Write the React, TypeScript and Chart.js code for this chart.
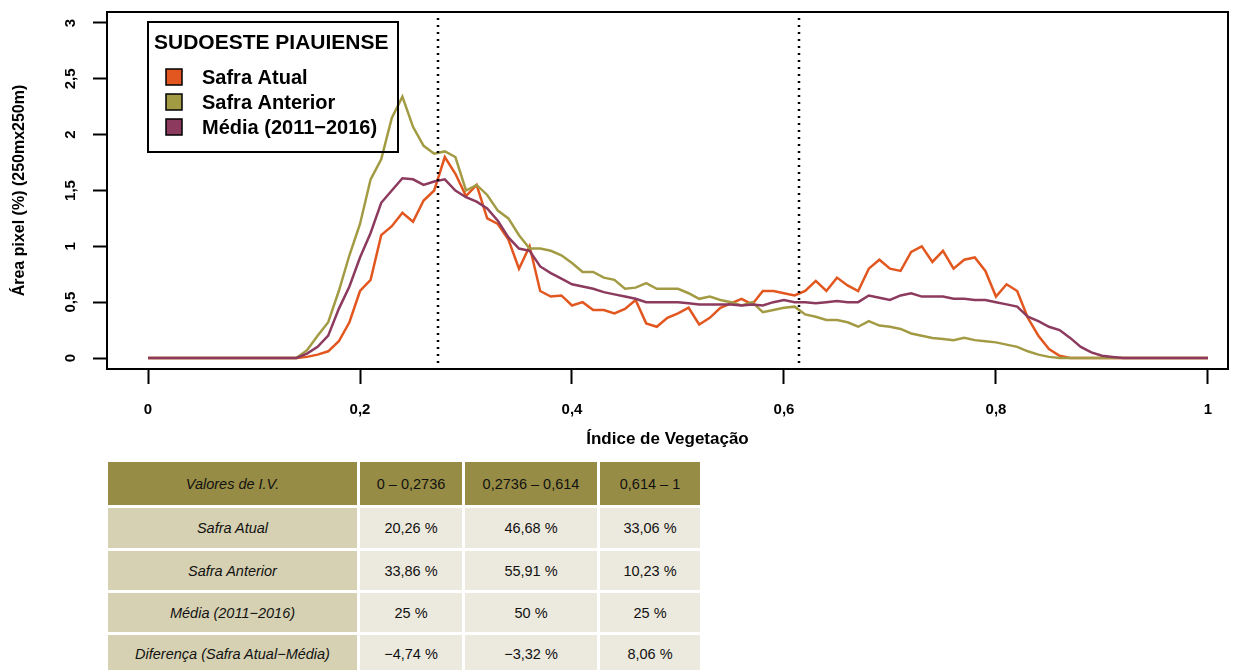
import React, { useEffect, useRef } from "react";
import { Chart, registerables } from "chart.js";
Chart.register(...registerables);

// Índice de Vegetação (x values)
const ivValues = [0,
  0.14, 0.15, 0.16, 0.17, 0.18, 0.19, 0.20, 0.21, 0.22, 0.23,
  0.24, 0.25, 0.26, 0.27, 0.28, 0.29, 0.30, 0.31, 0.32, 0.33,
  0.34, 0.35, 0.36, 0.37, 0.38, 0.39, 0.40, 0.41, 0.42, 0.43,
  0.44, 0.45, 0.46, 0.47, 0.48, 0.49, 0.50, 0.51, 0.52, 0.53,
  0.54, 0.55, 0.56, 0.57, 0.58, 0.59, 0.60, 0.61, 0.62, 0.63,
  0.64, 0.65, 0.66, 0.67, 0.68, 0.69, 0.70, 0.71, 0.72, 0.73,
  0.74, 0.75, 0.76, 0.77, 0.78, 0.79, 0.80, 0.81, 0.82, 0.83,
  0.84, 0.85, 0.86, 0.87, 0.88, 0.89, 0.90, 0.91, 0.92,
  1];

const safraAtual = [0,
  0, 0.01, 0.03, 0.06, 0.15, 0.32, 0.6, 0.7, 1.1, 1.18,
  1.3, 1.22, 1.41, 1.5, 1.8, 1.65, 1.45, 1.55, 1.25, 1.2,
  1.06, 0.8, 1.0, 0.6, 0.55, 0.56, 0.47, 0.5, 0.43, 0.43,
  0.4, 0.44, 0.52, 0.31, 0.28, 0.36, 0.4, 0.45, 0.3, 0.36,
  0.45, 0.49, 0.53, 0.48, 0.6, 0.6, 0.58, 0.56, 0.6, 0.69,
  0.6, 0.72, 0.65, 0.6, 0.8, 0.88, 0.8, 0.78, 0.95, 1.0,
  0.86, 0.96, 0.8, 0.88, 0.9, 0.78, 0.55, 0.66, 0.6, 0.36,
  0.2, 0.08, 0.02, 0, 0, 0, 0, 0, 0,
  0];

const safraAnterior = [0,
  0, 0.07, 0.2, 0.32, 0.6, 0.92, 1.2, 1.6, 1.78, 2.15,
  2.34, 2.07, 1.9, 1.83, 1.85, 1.8, 1.5, 1.55, 1.46, 1.32,
  1.25, 1.1, 0.98, 0.98, 0.96, 0.92, 0.85, 0.77, 0.77, 0.72,
  0.7, 0.62, 0.63, 0.67, 0.62, 0.62, 0.62, 0.58, 0.53, 0.55,
  0.52, 0.5, 0.47, 0.5, 0.41, 0.43, 0.45, 0.46, 0.39, 0.37,
  0.34, 0.34, 0.32, 0.28, 0.33, 0.29, 0.28, 0.26, 0.22, 0.2,
  0.18, 0.17, 0.16, 0.18, 0.16, 0.15, 0.14, 0.12, 0.1, 0.06,
  0.03, 0.01, 0, 0, 0, 0, 0, 0, 0,
  0];

const mediaHistorica = [0,
  0, 0.04, 0.1, 0.2, 0.44, 0.64, 0.9, 1.12, 1.39, 1.5,
  1.61, 1.6, 1.55, 1.58, 1.6, 1.5, 1.44, 1.4, 1.34, 1.23,
  1.08, 0.98, 0.96, 0.82, 0.76, 0.71, 0.66, 0.64, 0.62, 0.59,
  0.57, 0.55, 0.53, 0.5, 0.5, 0.5, 0.5, 0.49, 0.48, 0.48,
  0.48, 0.48, 0.47, 0.48, 0.47, 0.5, 0.52, 0.5, 0.5, 0.49,
  0.5, 0.51, 0.5, 0.5, 0.56, 0.54, 0.52, 0.56, 0.58, 0.55,
  0.55, 0.55, 0.53, 0.53, 0.52, 0.52, 0.5, 0.48, 0.46, 0.37,
  0.33, 0.28, 0.25, 0.18, 0.1, 0.05, 0.02, 0.01, 0,
  0];

const legendTitle = "SUDOESTE PIAUIENSE";
const seriesNames = ["Safra Atual", "Safra Anterior", "Média (2011−2016)"];
const seriesColors = ["#E2571F", "#A39B44", "#8C3A5E"];

const xTicks = [0, 0.2, 0.4, 0.6, 0.8, 1];
const xTickLabels = ["0", "0,2", "0,4", "0,6", "0,8", "1"];
const yTicks = [0, 0.5, 1, 1.5, 2, 2.5, 3];
const yTickLabels = ["0", "0,5", "1", "1,5", "2", "2,5", "3"];
const xTitle = "Índice de Vegetação";
const yTitle = "Área pixel (%) (250mx250m)";
const cutPoints = [0.2736, 0.614];

const tableHeader = ["Valores de I.V.", "0 – 0,2736", "0,2736 – 0,614", "0,614 – 1"];
const tableRowLabels = ["Safra Atual", "Safra Anterior", "Média (2011−2016)", "Diferença (Safra Atual−Média)"];
const tableRange1 = ["20,26 %", "33,86 %", "25 %", "−4,74 %"];
const tableRange2 = ["46,68 %", "55,91 %", "50 %", "−3,32 %"];
const tableRange3 = ["33,06 %", "10,23 %", "25 %", "8,06 %"];

const FONT = "'Liberation Sans', Arial, Helvetica, sans-serif";

export default function App() {
  const ref = useRef<HTMLCanvasElement>(null);

  useEffect(() => {
    const canvas = ref.current;
    if (!canvas) return;
    const series = [safraAtual, safraAnterior, mediaHistorica];

    const overlay = {
      id: "overlay",
      afterDatasetsDraw(chart: any) {
        const { ctx, chartArea: a, scales } = chart;
        ctx.save();
        // dotted cut lines
        ctx.strokeStyle = "#000";
        ctx.lineWidth = 2.5;
        ctx.setLineDash([2, 5]);
        for (const c of cutPoints) {
          const px = Math.round(scales.x.getPixelForValue(c));
          ctx.beginPath();
          ctx.moveTo(px, a.top + 6);
          ctx.lineTo(px, a.bottom - 4);
          ctx.stroke();
        }
        ctx.setLineDash([]);
        // plot box
        ctx.lineWidth = 2;
        ctx.strokeRect(a.left, a.top, a.right - a.left, a.bottom - a.top);
        // legend
        const lx = a.left + 41;
        const ly = a.top + 10;
        ctx.strokeRect(lx, ly, 250, 130);
        ctx.fillStyle = "#000";
        ctx.textBaseline = "middle";
        ctx.textAlign = "left";
        ctx.font = `bold 21px ${FONT}`;
        ctx.fillText(legendTitle, lx + 6, ly + 21);
        ctx.font = `bold 20px ${FONT}`;
        seriesNames.forEach((n, i) => {
          const cy = ly + 55 + i * 25;
          ctx.fillStyle = seriesColors[i];
          ctx.fillRect(lx + 18, cy - 8, 16, 16);
          ctx.lineWidth = 1.5;
          ctx.strokeStyle = "#000";
          ctx.strokeRect(lx + 18, cy - 8, 16, 16);
          ctx.fillStyle = "#000";
          ctx.fillText(n, lx + 54, cy + 1);
        });
        ctx.restore();
      },
    };

    const chart = new Chart(canvas, {
      type: "line",
      data: {
        datasets: series.map((ys, i) => ({
          label: seriesNames[i],
          data: ivValues.map((x, j) => ({ x, y: ys[j] })),
          borderColor: seriesColors[i],
          backgroundColor: seriesColors[i],
          borderWidth: 2.5,
          pointRadius: 0,
          tension: 0,
          fill: false,
          order: 3 - i,
        })),
      },
      options: {
        animation: false,
        responsive: false,
        devicePixelRatio: 1,
        layout: { padding: { left: 0, right: 13, top: 12, bottom: 0 } },
        plugins: { legend: { display: false }, tooltip: { enabled: false } },
        scales: {
          x: {
            type: "linear",
            min: -0.0387,
            max: 1.0189,
            afterFit: (s: any) => { s.height = 91; s.paddingLeft = 0; s.paddingRight = 0; },
            afterBuildTicks: (s: any) => { s.ticks = xTicks.map((v) => ({ value: v })); },
            grid: { display: true, drawOnChartArea: false, drawTicks: true, tickLength: 15, tickColor: "#000", tickWidth: 2 },
            border: { display: false },
            ticks: {
              autoSkip: false,
              maxRotation: 0,
              padding: 17,
              color: "#000",
              font: { family: FONT, size: 15, weight: "bold" },
              callback: (v: any) => xTickLabels[xTicks.indexOf(Number(v))] ?? "",
            },
            title: {
              display: true,
              text: xTitle,
              color: "#000",
              font: { family: FONT, size: 17, weight: "bold" },
              padding: { top: 0, bottom: 10 },
            },
          },
          y: {
            type: "linear",
            min: -0.0985,
            max: 3.0985,
            afterFit: (s: any) => { s.width = 107; s.paddingTop = 0; s.paddingBottom = 0; },
            afterBuildTicks: (s: any) => { s.ticks = yTicks.map((v) => ({ value: v })); },
            grid: { display: true, drawOnChartArea: false, drawTicks: true, tickLength: 14, tickColor: "#000", tickWidth: 2 },
            border: { display: false },
            ticks: {
              autoSkip: false,
              minRotation: 90,
              maxRotation: 90,
              crossAlign: "center",
              padding: 12,
              color: "#000",
              font: { family: FONT, size: 15, weight: "bold" },
              callback: (v: any) => yTickLabels[yTicks.indexOf(Number(v))] ?? "",
            },
            title: {
              display: true,
              text: yTitle,
              color: "#000",
              font: { family: FONT, size: 16, weight: "bold" },
              padding: { top: 10, bottom: 0 },
            },
          },
        },
      },
      plugins: [overlay],
    });
    return () => chart.destroy();
  }, []);

  const cellBase: React.CSSProperties = {
    display: "flex",
    alignItems: "center",
    justifyContent: "center",
    fontFamily: FONT,
    fontSize: 14.5,
    color: "#111",
    whiteSpace: "nowrap",
  };
  const header = "#978C45";
  const labelBg = "#D7D1B3";
  const cellBg = "#ECE9DE";
  const ranges = [tableRange1, tableRange2, tableRange3];

  return (
    <div style={{ position: "absolute", left: 0, top: 0, width: 1241, height: 670, background: "#fff" }}>
      <canvas ref={ref} width={1241} height={460} style={{ position: "absolute", left: 0, top: 0, display: "block" }} />
      <div
        style={{
          position: "absolute",
          left: 108,
          top: 462,
          display: "grid",
          gridTemplateColumns: "249px 102px 132px 100px",
          gridTemplateRows: "43px 40px 39px 39px 37px",
          gap: 3,
        }}
      >
        {tableHeader.map((h, i) => (
          <div key={"h" + i} style={{ ...cellBase, background: header, fontStyle: i === 0 ? "italic" : "normal" }}>
            {h}
          </div>
        ))}
        {tableRowLabels.map((r, ri) => (
          <React.Fragment key={"r" + ri}>
            <div style={{ ...cellBase, background: labelBg, fontStyle: "italic" }}>{r}</div>
            {ranges.map((col, ci) => (
              <div key={ci} style={{ ...cellBase, background: cellBg }}>{col[ri]}</div>
            ))}
          </React.Fragment>
        ))}
      </div>
    </div>
  );
}
